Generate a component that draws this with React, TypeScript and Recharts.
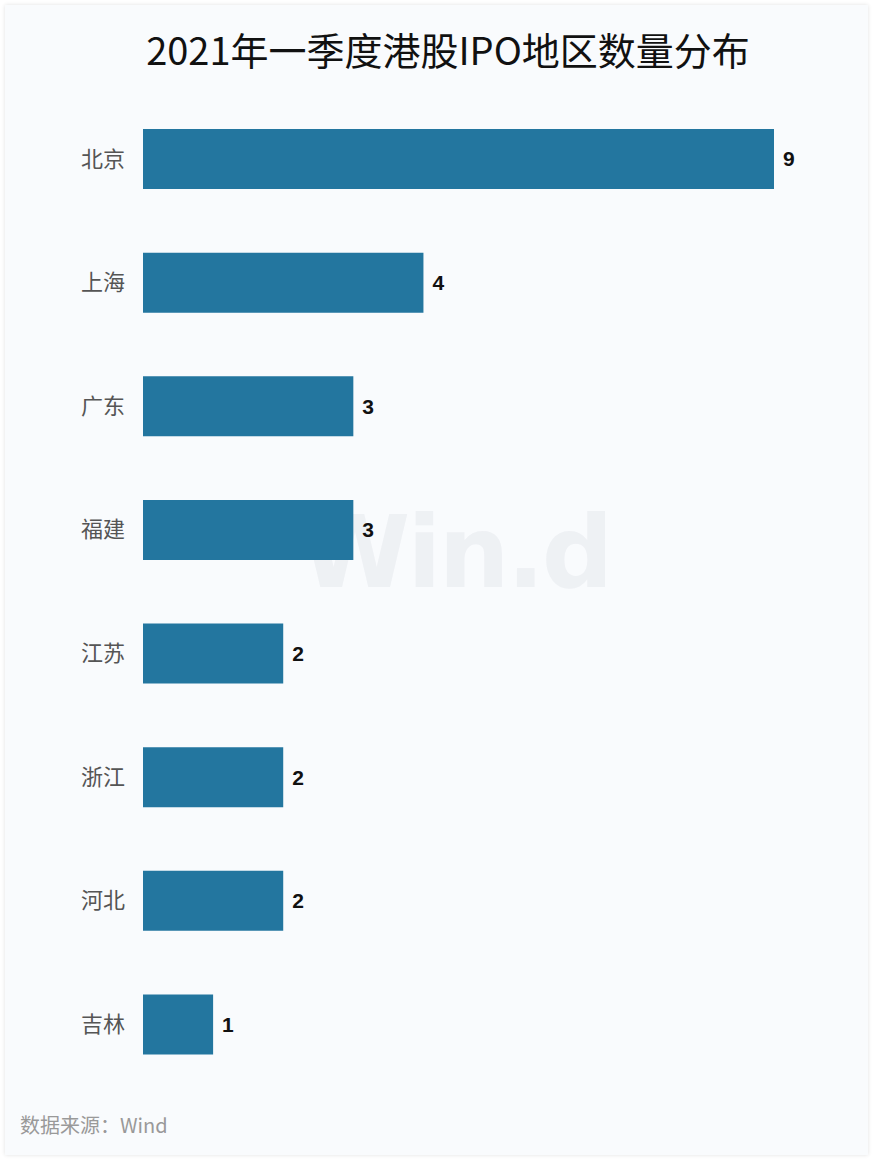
import React from "react";
import { BarChart, Bar, XAxis, YAxis, LabelList } from "recharts";

const regions = ["北京", "上海", "广东", "福建", "江苏", "浙江", "河北", "吉林"];
const ipoCounts = [9, 4, 3, 3, 2, 2, 2, 1];

const data = regions.map((name, i) => ({ name, value: ipoCounts[i] }));

export default function App() {
  return (
    <div style={{ position: "absolute", left: 0, top: 0, width: 879, height: 1164, background: "#fff" }}>
      <div
        style={{
          position: "absolute",
          left: 5,
          top: 5,
          width: 863,
          height: 1150,
          background: "#f9fbfd",
          boxShadow: "0 0 4px rgba(0,0,0,0.12)",
        }}
      />
      <div
        style={{
          position: "absolute",
          left: 0,
          top: 21,
          width: 896,
          textAlign: "center",
          fontFamily: "'Noto Sans CJK SC', sans-serif",
          fontSize: 38,
          color: "#111",
          lineHeight: "56px",
        }}
      >
        2021年一季度港股IPO地区数量分布
      </div>
      <div
        style={{
          position: "absolute",
          left: 300,
          top: 494,
          fontFamily: "'DejaVu Sans', sans-serif",
          fontWeight: "bold",
          fontSize: 100,
          color: "rgba(200,205,212,0.22)",
          letterSpacing: -3,
          pointerEvents: "none",
        }}
      >
        Win.d
      </div>
      <div style={{ position: "absolute", left: 0, top: 0 }}>
        <BarChart
          width={879}
          height={1164}
          data={data}
          layout="vertical"
          margin={{ top: 97, right: 105, bottom: 78, left: 0 }}
          barSize={60}
        >
          <XAxis type="number" domain={[0, 9]} hide />
          <YAxis
            type="category"
            dataKey="name"
            width={143}
            axisLine={false}
            tickLine={false}
            tickSize={0}
            tickMargin={18}
            tick={{ fontSize: 22, fill: "#555", fontFamily: "'Noto Sans CJK SC', sans-serif" }}
          />
          <Bar dataKey="value" fill="#23769f" isAnimationActive={false}>
            <LabelList
              dataKey="value"
              position="right"
              offset={9}
              fill="#111"
              fontSize={21}
              fontWeight="bold"
              fontFamily="'Liberation Sans', Arial, sans-serif"
            />
          </Bar>
        </BarChart>
      </div>
      <div
        style={{
          position: "absolute",
          left: 20,
          top: 1110,
          fontFamily: "'Noto Sans CJK SC', sans-serif",
          fontSize: 20,
          color: "#999",
          lineHeight: "30px",
        }}
      >
        数据来源：Wind
      </div>
    </div>
  );
}
